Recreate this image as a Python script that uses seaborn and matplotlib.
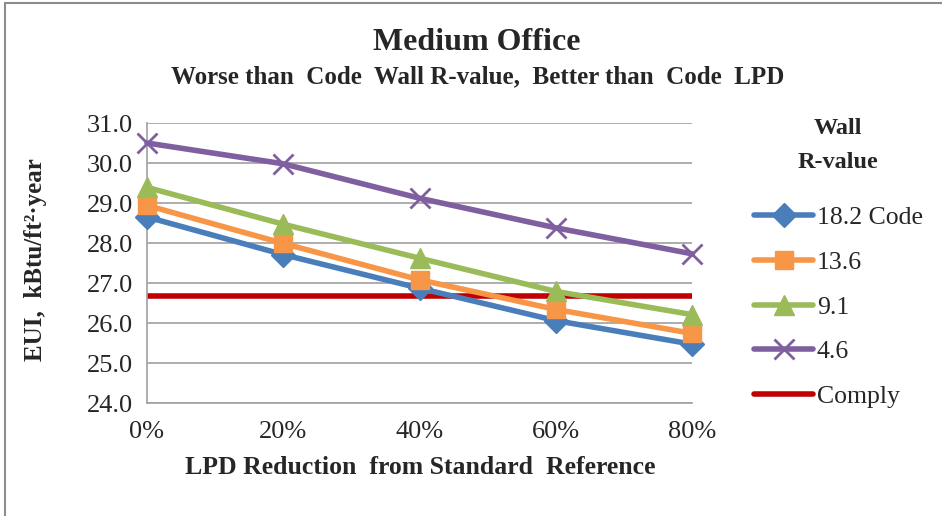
import matplotlib
matplotlib.use("Agg")
import matplotlib.pyplot as plt
from matplotlib.lines import Line2D
import seaborn as sns
import pandas as pd

categories = ["0%", "20%", "40%", "60%", "80%"]
series_names = ["18.2 Code", "13.6", "9.1", "4.6"]
r182 = [28.65, 27.71, 26.87, 26.06, 25.47]
r136 = [28.94, 27.99, 27.08, 26.34, 25.74]
r91 = [29.39, 28.47, 27.62, 26.79, 26.21]
r46 = [30.50, 29.98, 29.12, 28.38, 27.73]
comply = 26.67
y_ticks = [24.0, 25.0, 26.0, 27.0, 28.0, 29.0, 30.0, 31.0]

values = [r182, r136, r91, r46]
colors = ["#4A7EBB", "#F79646", "#9BBB59", "#7F5F9F"]
markers = ["D", "s", "^", "x"]
msizes = [12, 13, 14, 15]
red = "#C00000"

rows = []
for name, vals in zip(series_names, values):
    for i, v in enumerate(vals):
        rows.append({"series": name, "x": i, "EUI": v})
df = pd.DataFrame(rows)

sns.set_theme(style="white")
plt.rcParams["font.family"] = ["Liberation Serif", "DejaVu Serif"]

fig = plt.figure(figsize=(9.42, 5.16), dpi=100)
ax = fig.add_axes([147/942, (516-403)/516, (692-147)/942, (403-123)/516])

grid_c = "#A0A0A0"
for y in y_ticks:
    ax.axhline(y, color=grid_c, lw=1.2, zorder=0)

# comply line
ax.plot([0, len(categories)-1], [comply, comply], color=red, lw=4, zorder=2, solid_capstyle="butt")

for name, c, m, ms in zip(series_names, colors, markers, msizes):
    sub = df[df["series"] == name]
    sns.lineplot(data=sub, x="x", y="EUI", ax=ax, color=c, lw=4, marker=m,
                 markersize=ms, markeredgecolor=c, markerfacecolor=c,
                 markeredgewidth=2 if m == "x" else 1, clip_on=False, zorder=3,
                 legend=False)

ax.set_xlim(0, len(categories)-1)
ax.set_ylim(24, 31)
ax.set_xticks(range(len(categories)))
ax.set_xticklabels(categories, fontsize=19)
ax.set_yticks(y_ticks)
ax.set_yticklabels([f"{v:.1f}" for v in y_ticks], fontsize=19)
ax.tick_params(axis="x", direction="out", length=6, color=grid_c, width=1.2, pad=7)
ax.tick_params(axis="y", direction="inout", length=10, color=grid_c, width=1.2, pad=5)
for s in ["top", "right"]:
    ax.spines[s].set_visible(False)
for s in ["left", "bottom"]:
    ax.spines[s].set_color(grid_c)
    ax.spines[s].set_linewidth(1.2)
ax.set_xlabel("")
ax.set_ylabel("")

fig.text(420/942, 1-468/516, "LPD Reduction  from Standard  Reference", ha="center", va="center",
         fontsize=18.5, fontweight="bold")
fig.text(36/942, 1-260/516, "EUI,  kBtu/ft²·year", ha="center", va="center", rotation=90,
         fontsize=18, fontweight="bold")
fig.text(477/942, 1-42/516, "Medium Office", ha="center", va="center", fontsize=23, fontweight="bold")
fig.text(478/942, 1-77/516, "Worse than  Code  Wall R-value,  Better than  Code  LPD", ha="center",
         va="center", fontsize=18, fontweight="bold")

# legend
fig.text(838/942, 1-128/516, "Wall", ha="center", va="center", fontsize=17.5, fontweight="bold")
fig.text(838/942, 1-162/516, "R-value", ha="center", va="center", fontsize=17.5, fontweight="bold")
handles = [Line2D([], [], color=c, lw=4, marker=m, markersize=ms, markerfacecolor=c,
                  markeredgecolor=c, markeredgewidth=2 if m == "x" else 1)
           for c, m, ms in zip(colors, markers, msizes)]
handles.append(Line2D([], [], color=red, lw=4))
labels = series_names + ["Comply"]
leg = fig.legend(handles, labels, loc="upper left", bbox_to_anchor=(754/942, 1-206/516),
                 frameon=False, fontsize=18.5, handlelength=2.3, handletextpad=0.15,
                 labelspacing=0.85, borderpad=0, borderaxespad=0)

# outer chart border (left and top visible)
border_c = "#8C8C8C"
fig.add_artist(Line2D([5/942, 1.0], [1-3/516, 1-3/516], color=border_c, lw=1.5, transform=fig.transFigure))
fig.add_artist(Line2D([5/942, 5/942], [0.0, 1-3/516], color=border_c, lw=1.5, transform=fig.transFigure))

fig.savefig("out.png", dpi=100)
